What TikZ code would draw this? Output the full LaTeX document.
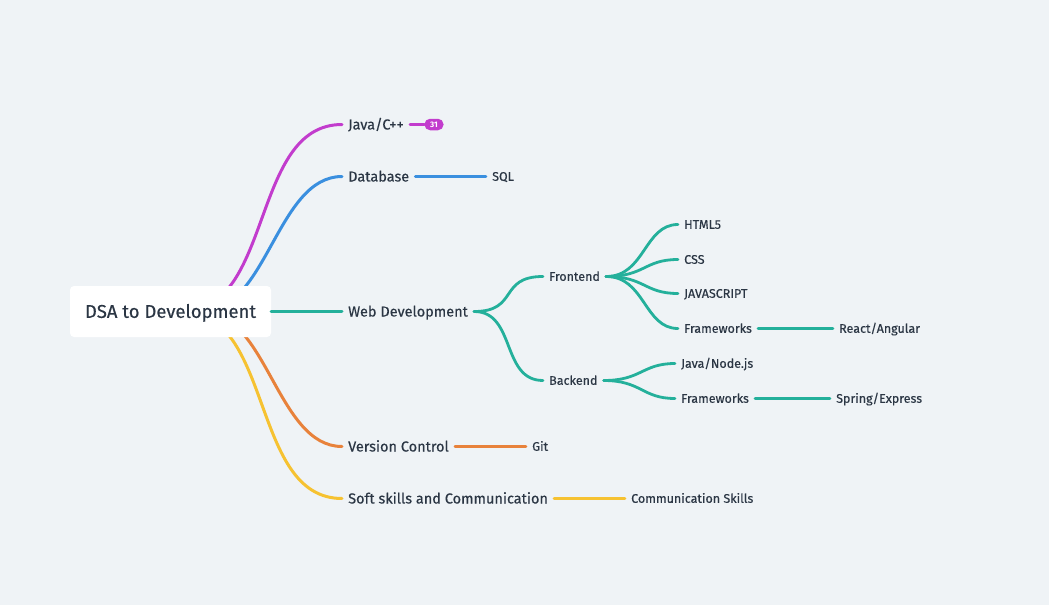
\documentclass[tikz,border=0pt]{standalone}
\usepackage{fontspec}
\setmainfont{Fira Sans}
\newfontfamily\medfont{Fira Sans}[FakeBold=0.4]
\definecolor{bg}{HTML}{EFF3F6}
\definecolor{txt}{HTML}{2B3644}
\definecolor{cpurple}{HTML}{C23CCD}
\definecolor{cblue}{HTML}{3A8FDF}
\definecolor{cteal}{HTML}{24B09B}
\definecolor{corange}{HTML}{E8823B}
\definecolor{cyellow}{HTML}{F6C231}
\tikzset{
  lvlone/.style={font=\medfont\fontsize{14.5}{16}\selectfont, text=txt, inner xsep=6pt, inner ysep=0pt, text height=12pt, text depth=2pt, anchor=west},
  lvltwo/.style={font=\medfont\fontsize{12.5}{14}\selectfont, text=txt, inner xsep=6pt, inner ysep=0pt, text height=10.6pt, text depth=2pt, anchor=west},
  rootbox/.style={fill=white, rounded corners=4pt, minimum width=201pt, minimum height=51pt, inner sep=0pt, text height=16pt, text depth=3.3pt, font=\medfont\fontsize{18.5}{20}\selectfont, text=txt},
  badge/.style={fill=cpurple, text=white, rounded corners=5.5pt, minimum width=19pt, minimum height=11.5pt, inner sep=0pt, font=\fontsize{8}{8}\selectfont\bfseries},
  mainline/.style={line width=3pt, line cap=round},
  subline/.style={line width=2.8pt, line cap=round},
}
\begin{document}
\begin{tikzpicture}[x=1pt, y=-1pt]
\fill[bg] (0,0) rectangle (1049,605);
\useasboundingbox (0,0) rectangle (1049,605);
% level one
\node[lvlone] (java) at (342,124.5) {Java/C++};
\node[lvlone] (db) at (342,176.5) {Database};
\node[lvlone] (web) at (342,311.5) {Web Development};
\node[lvlone] (vc) at (342,446.5) {Version Control};
\node[lvlone] (soft) at (342,498.5) {Soft skills and Communication};
% level two and deeper
\node[badge] (b31) at (434,124.5) {31};
\node[lvltwo] (sql) at (486,176.5) {SQL};
\node[lvltwo] (front) at (543,276.5) {Frontend};
\node[lvltwo] (back) at (543,380.5) {Backend};
\node[lvltwo] (html) at (678,224.5) {HTML5};
\node[lvltwo] (css) at (678,259.5) {CSS};
\node[lvltwo] (js) at (678,293.5) {JAVASCRIPT};
\node[lvltwo] (fwone) at (678,328.5) {Frameworks};
\node[lvltwo] (react) at (833,328.5) {React/Angular};
\node[lvltwo] (jn) at (675,363.5) {Java/Node.js};
\node[lvltwo] (fwtwo) at (675,398.5) {Frameworks};
\node[lvltwo] (spring) at (830,398.5) {Spring/Express};
\node[lvltwo] (git) at (526,446.5) {Git};
\node[lvltwo] (comm) at (625,498.5) {Communication Skills};
% root branch start points (hidden under the root box)
\coordinate (rout) at (182,311.5);
\coordinate (rin) at (202,311.5);
\draw[mainline, cpurple] (rout) .. controls +(92,0) and +(-92,0) .. (java.west);
\draw[mainline, cblue] (rin) .. controls +(65,0) and +(-65,0) .. (db.west);
\draw[mainline, corange] (rin) .. controls +(65,0) and +(-65,0) .. (vc.west);
\draw[mainline, cyellow] (rout) .. controls +(92,0) and +(-92,0) .. (soft.west);
\node[rootbox] (root) at (170.5,311.5) {DSA to Development};
\draw[mainline, cteal] (root.east) -- (web.west);
% deeper connectors
\draw[subline, cpurple] (java.east) -- (b31.west);
\draw[subline, cblue] (db.east) -- (sql.west);
\draw[subline, cteal] (web.east) .. controls +(45,0) and +(-45,0) .. (front.west);
\draw[subline, cteal] (web.east) .. controls +(42,0) and +(-42,0) .. (back.west);
\foreach \n in {html,css,js,fwone}
  \draw[subline, cteal] (front.east) .. controls +(39,0) and +(-34,0) .. (\n.west);
\foreach \n in {jn,fwtwo}
  \draw[subline, cteal] (back.east) .. controls +(38,0) and +(-33,0) .. (\n.west);
\draw[subline, cteal] (fwone.east) -- (react.west);
\draw[subline, cteal] (fwtwo.east) -- (spring.west);
\draw[subline, corange] (vc.east) -- (git.west);
\draw[subline, cyellow] (soft.east) -- (comm.west);
\end{tikzpicture}
\end{document}
